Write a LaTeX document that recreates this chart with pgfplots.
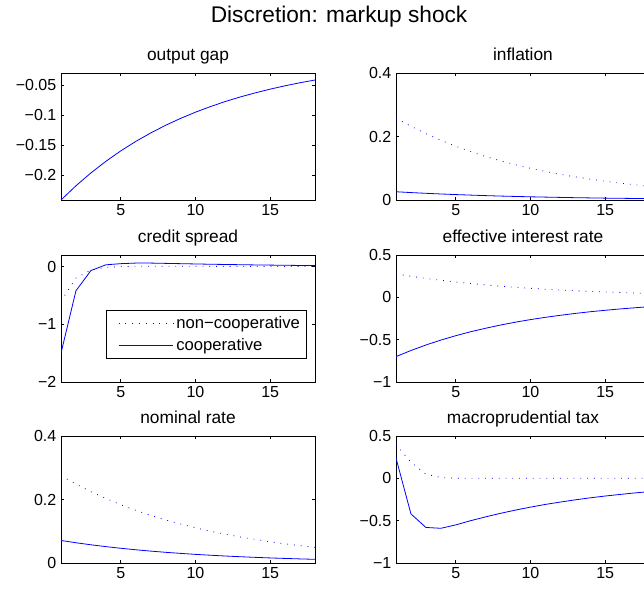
\documentclass[border=0pt]{standalone}
\usepackage{fontspec}
\setmainfont{Liberation Sans}
\usepackage{pgfplots}
\pgfplotsset{compat=1.18}

\pgfplotsset{
  irf/.style={
    scale only axis, width=190.5pt, height=95.25pt,
    anchor=south west,
    xmin=1, xmax=18,
    xtick={5,10,15}, xticklabels={5,10,15},
    tick align=inside, major tick length=2.5pt,
    axis line style={line width=0.5pt},
    every tick/.style={black, line width=0.5pt},
    tick label style={font=\fontsize{12}{14}\selectfont},
    title style={font=\fontsize{13}{15}\selectfont, at={(0.5,1)}, anchor=base, yshift=3.75pt},
  },
  nc/.style={blue, line width=0.6pt, dash pattern=on 0.6pt off 4.5pt},
  co/.style={blue, line width=0.6pt},
}

\begin{document}
\begin{tikzpicture}

\node[anchor=base, font=\fontsize{17}{20}\selectfont] at (254.3pt,-17pt) {Discretion: markup shock};

% output gap
\begin{axis}[irf, at={(45.75pt,-150pt)}, title={output gap},
  ymin=-0.2417, ymax=-0.03,
  ytick={-0.2,-0.15,-0.1,-0.05}, yticklabels={−0.2,−0.15,−0.1,−0.05}]
\addplot[co] coordinates {(1,-0.2417) (2,-0.2180) (3,-0.1966) (4,-0.1773) (5,-0.1598) (6,-0.1441) (7,-0.1300) (8,-0.1172) (9,-0.1057) (10,-0.0953) (11,-0.0860) (12,-0.0775) (13,-0.0699) (14,-0.0631) (15,-0.0569) (16,-0.0513) (17,-0.0462) (18,-0.0417)};
\end{axis}

% inflation
\begin{axis}[irf, at={(297pt,-150pt)}, title={inflation},
  ymin=0, ymax=0.4, ytick={0,0.2,0.4}, yticklabels={0,0.2,0.4}]
\addplot[nc] coordinates {(1,0.2580) (2,0.2322) (3,0.2090) (4,0.1881) (5,0.1693) (6,0.1523) (7,0.1371) (8,0.1234) (9,0.1110) (10,0.0999) (11,0.0899) (12,0.0809) (13,0.0728) (14,0.0656) (15,0.0590) (16,0.0531) (17,0.0478) (18,0.0430)};
\addplot[co] coordinates {(1,0.0260) (2,0.0234) (3,0.0211) (4,0.0190) (5,0.0171) (6,0.0154) (7,0.0138) (8,0.0124) (9,0.0112) (10,0.0101) (11,0.0091) (12,0.0082) (13,0.0073) (14,0.0066) (15,0.0059) (16,0.0054) (17,0.0048) (18,0.0043)};
\end{axis}

% credit spread
\begin{axis}[irf, at={(45.75pt,-286.5pt)}, title={credit spread},
  ymin=-2, ymax=0.2, ytick={-2,-1,0}, yticklabels={−2,−1,0},
  legend style={at={(0.9685,0.181)}, anchor=south east, draw=black, line width=0.5pt,
    fill=white, font=\fontsize{12.5}{15}\selectfont, inner xsep=3pt, inner ysep=2.5pt,
    row sep=2pt, cells={anchor=west}},
  legend image code/.code={\path (0pt,0pt); \draw[#1] (6pt,0pt) -- (47pt,0pt);}]
\addplot[nc] coordinates {(1,-0.6) (2,-0.2) (3,-0.06) (4,-0.015) (5,0.0) (6,0.004) (7,0.005) (8,0.005) (9,0.004) (10,0.004) (11,0.003) (12,0.003) (13,0.002) (14,0.002) (15,0.002) (16,0.001) (17,0.001) (18,0.001)};
\addplot[co] coordinates {(1,-1.5) (2,-0.42) (3,-0.07) (4,0.03) (5,0.05) (6,0.06) (7,0.06) (8,0.055) (9,0.05) (10,0.045) (11,0.04) (12,0.036) (13,0.032) (14,0.028) (15,0.025) (16,0.022) (17,0.019) (18,0.016)};
\legend{non−cooperative, cooperative}
\end{axis}

% effective interest rate
\begin{axis}[irf, at={(297pt,-286.5pt)}, title={effective interest rate},
  ymin=-1, ymax=0.5, ytick={-1,-0.5,0,0.5}, yticklabels={−1,−0.5,0,0.5}]
\addplot[nc] coordinates {(1,0.2760) (2,0.2484) (3,0.2236) (4,0.2012) (5,0.1811) (6,0.1630) (7,0.1467) (8,0.1320) (9,0.1188) (10,0.1069) (11,0.0962) (12,0.0866) (13,0.0780) (14,0.0702) (15,0.0631) (16,0.0568) (17,0.0511) (18,0.0460)};
\addplot[co] coordinates {(1,-0.700) (2,-0.628) (3,-0.563) (4,-0.505) (5,-0.453) (6,-0.406) (7,-0.365) (8,-0.327) (9,-0.293) (10,-0.263) (11,-0.236) (12,-0.212) (13,-0.190) (14,-0.170) (15,-0.153) (16,-0.137) (17,-0.123) (18,-0.110)};
\end{axis}

% nominal rate
\begin{axis}[irf, at={(45.75pt,-422.25pt)}, title={nominal rate},
  ymin=0, ymax=0.4, ytick={0,0.2,0.4}, yticklabels={0,0.2,0.4}]
\addplot[nc] coordinates {(1,0.2750) (2,0.2486) (3,0.2247) (4,0.2032) (5,0.1837) (6,0.1660) (7,0.1501) (8,0.1357) (9,0.1227) (10,0.1109) (11,0.1002) (12,0.0906) (13,0.0819) (14,0.0741) (15,0.0669) (16,0.0605) (17,0.0547) (18,0.0494)};
\addplot[co] coordinates {(1,0.0710) (2,0.0638) (3,0.0574) (4,0.0516) (5,0.0464) (6,0.0417) (7,0.0375) (8,0.0337) (9,0.0303) (10,0.0272) (11,0.0245) (12,0.0220) (13,0.0198) (14,0.0178) (15,0.0160) (16,0.0144) (17,0.0129) (18,0.0116)};
\end{axis}

% macroprudential tax
\begin{axis}[irf, at={(297pt,-422.25pt)}, title={macroprudential tax},
  ymin=-1, ymax=0.5, ytick={-1,-0.5,0,0.5}, yticklabels={−1,−0.5,0,0.5}]
\addplot[nc] coordinates {(1,0.40) (2,0.19) (3,0.05) (4,0.01) (5,0.0) (6,0.0) (7,0.0) (8,0.0) (9,0.0) (10,0.0) (11,0.0) (12,0.0) (13,0.0) (14,0.0) (15,0.0) (16,0.0) (17,0.0) (18,0.0)};
\addplot[co] coordinates {(1,0.24) (2,-0.42) (3,-0.58) (4,-0.59) (5,-0.55) (6,-0.50) (7,-0.455) (8,-0.413) (9,-0.375) (10,-0.340) (11,-0.308) (12,-0.280) (13,-0.254) (14,-0.230) (15,-0.209) (16,-0.190) (17,-0.172) (18,-0.156)};
\end{axis}

\pgfresetboundingbox
\useasboundingbox (0pt,0pt) rectangle (483pt,-442.5pt);
\end{tikzpicture}
\end{document}
